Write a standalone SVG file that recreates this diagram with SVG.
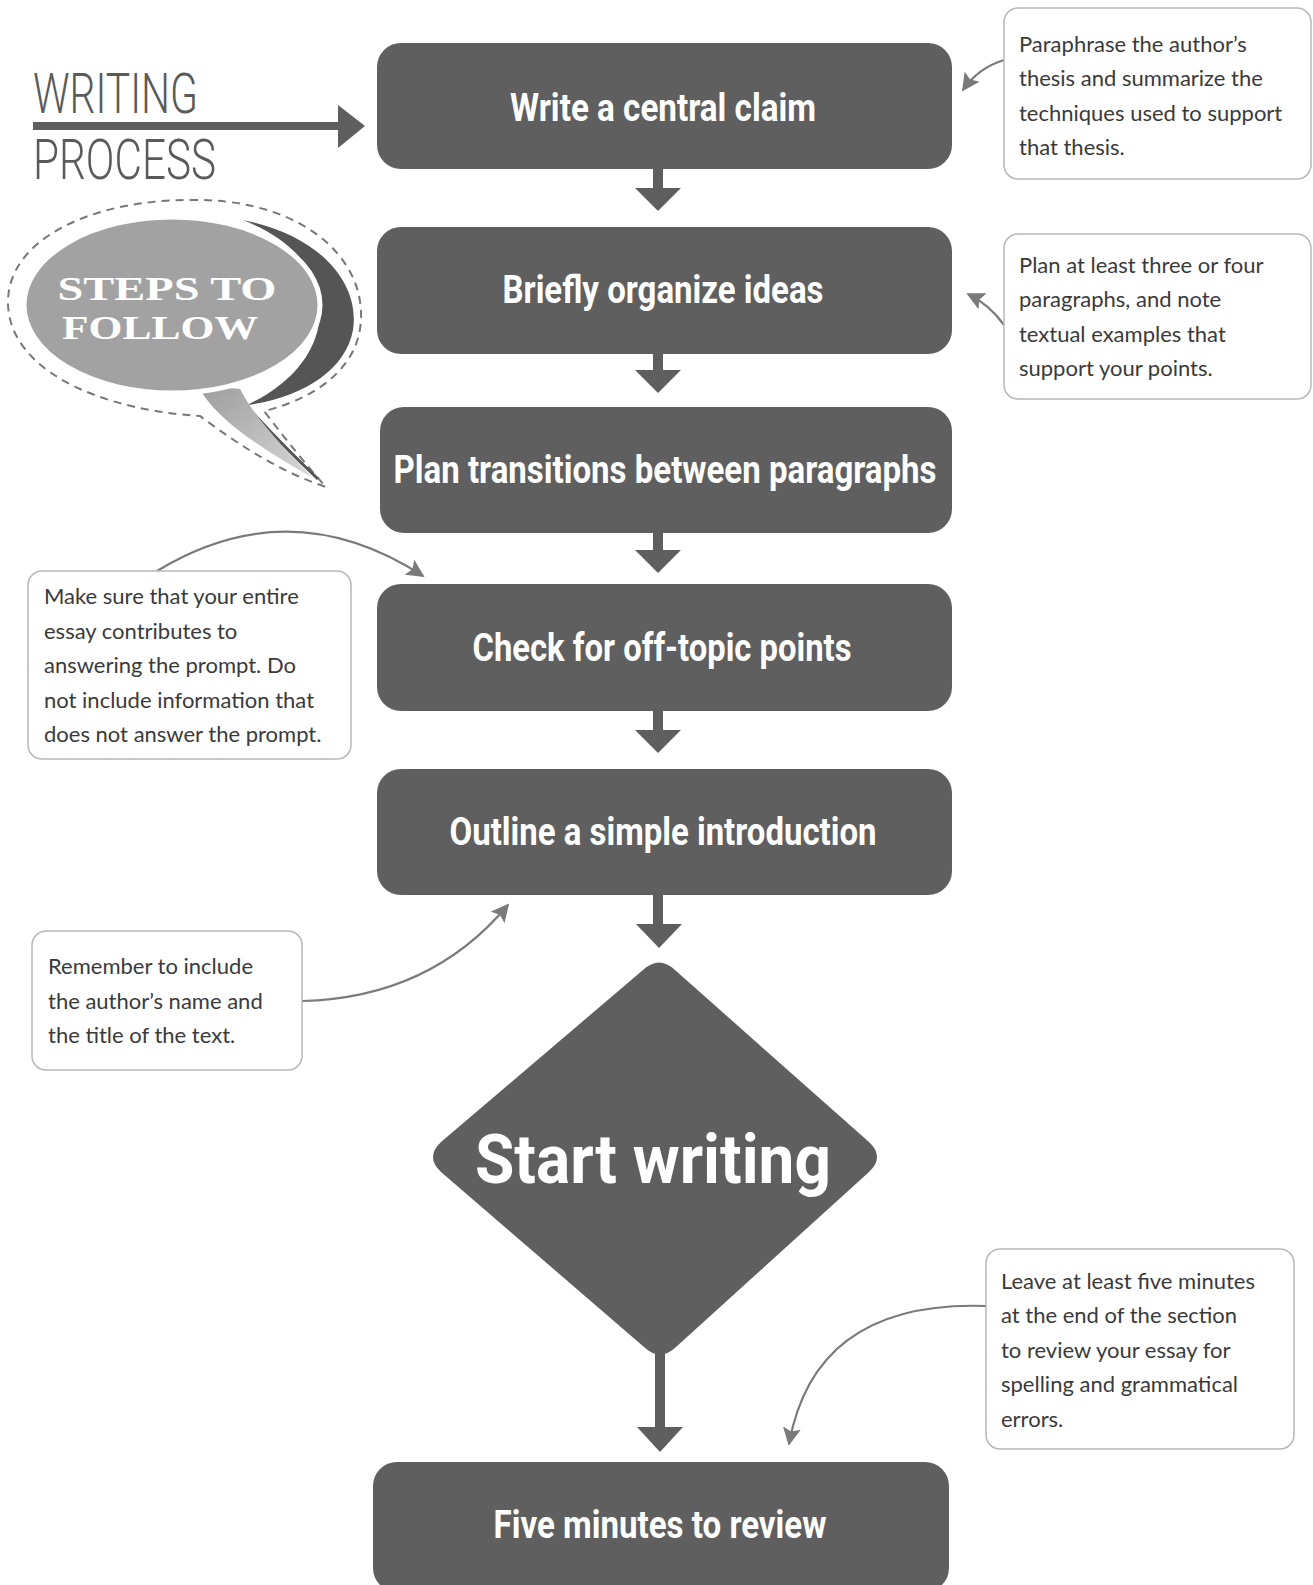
<svg xmlns="http://www.w3.org/2000/svg" width="1313" height="1585" viewBox="0 0 1313 1585">
<style>
.node{fill:#5f5f5f}
.nt{font-family:Roboto,"Liberation Sans",sans-serif;font-weight:700;fill:#ffffff;text-anchor:middle}
.call{fill:#ffffff;stroke:#b8b8b8;stroke-width:1.5}
.ct{font-family:Lato,"Open Sans",sans-serif;font-size:22px;fill:#3a3a3a}
.conn{fill:#5e5e5e}
.curve{fill:none;stroke:#7a7a7a;stroke-width:2.2}
.title{font-family:Roboto,"Liberation Sans",sans-serif;font-weight:300;fill:#5a5a5a}
</style>
<defs>
<marker id="ah2" viewBox="0 0 10 10" refX="9" refY="5" markerWidth="18" markerHeight="18" markerUnits="userSpaceOnUse" orient="auto">
<path d="M0,0 L10,5 L0,10 L2,5 Z" fill="#7a7a7a"/>
</marker>
<linearGradient id="tailg" x1="0" y1="0" x2="1" y2="1">
<stop offset="0" stop-color="#9c9c9c"/>
<stop offset="1" stop-color="#d8d8d8"/>
</linearGradient>
</defs>
<rect width="1313" height="1585" fill="#ffffff"/>

<g id="title">
<text class="title" x="33" y="113" font-size="56" textLength="165" lengthAdjust="spacingAndGlyphs">WRITING</text>
<text class="title" x="33" y="179" font-size="56" textLength="183" lengthAdjust="spacingAndGlyphs">PROCESS</text>
<rect x="33" y="122" width="310" height="8" fill="#5e5e5e"/>
<path d="M338,105 L365,126 L338,148 Z" fill="#5e5e5e"/>
</g>

<g id="bubble">
<path d="M190,200 C292,198 364,250 361,320 C358,376 302,402 264,411 C287,441 307,466 326,487 C281,472 240,446 200,416 C100,410 8,370 8,302 C8,240 90,200 190,200 Z" fill="none" stroke="#777" stroke-width="2" stroke-dasharray="8 6"/>
<path d="M243,220 C322,236 360,284 353,330 C346,370 302,398 247,405 C290,385 320,352 320,310 C320,270 292,240 243,220 Z" fill="#555555"/>
<path d="M250,410 Q285,448 318,479" fill="none" stroke="#555" stroke-width="3"/>
<path d="M198,385 C214,420 268,452 313,478 C286,450 256,420 240,389 Z" fill="url(#tailg)"/>
<ellipse cx="172" cy="305" rx="148" ry="88" fill="#a2a2a2" stroke="#ffffff" stroke-width="5"/>
<text x="167" y="300" font-family="'Liberation Serif',serif" font-weight="700" font-size="33" fill="#ffffff" text-anchor="middle" textLength="219" lengthAdjust="spacingAndGlyphs">STEPS TO</text>
<text x="160" y="339" font-family="'Liberation Serif',serif" font-weight="700" font-size="33" fill="#ffffff" text-anchor="middle" textLength="196" lengthAdjust="spacingAndGlyphs">FOLLOW</text>
</g>

<g id="connectors">
<rect class="conn" x="653" y="168" width="10" height="22"/><path class="conn" d="M635,188 L681,188 L658,211 Z"/>
<rect class="conn" x="653" y="353" width="10" height="20"/><path class="conn" d="M635,370 L681,370 L658,393 Z"/>
<rect class="conn" x="653" y="532" width="10" height="20"/><path class="conn" d="M635,550 L681,550 L658,573 Z"/>
<rect class="conn" x="653" y="710" width="10" height="22"/><path class="conn" d="M635,730 L681,730 L658,753 Z"/>
<rect class="conn" x="653" y="894" width="10" height="32"/><path class="conn" d="M636,924 L682,924 L659,948 Z"/>
<rect class="conn" x="655" y="1345" width="10" height="84"/><path class="conn" d="M637,1427 L683,1427 L660,1452 Z"/>
<path class="curve" d="M1004,60 Q978,68 963,90" marker-end="url(#ah2)"/>
<path class="curve" d="M1004,325 Q990,305 968,294" marker-end="url(#ah2)"/>
<path class="curve" d="M157,571 Q290,490 423,576" marker-end="url(#ah2)"/>
<path class="curve" d="M302,1001 Q430,998 508,905" marker-end="url(#ah2)"/>
<path class="curve" d="M986,1306 Q815,1300 789,1444" marker-end="url(#ah2)"/>
</g>

<g id="n1"><rect class="node" x="377" y="43" width="575" height="126" rx="24"/><text class="nt" x="663" y="121" font-size="38" textLength="306" lengthAdjust="spacingAndGlyphs">Write a central claim</text></g>
<g id="n2"><rect class="node" x="377" y="227" width="575" height="127" rx="24"/><text class="nt" x="663" y="303" font-size="38" textLength="321" lengthAdjust="spacingAndGlyphs">Briefly organize ideas</text></g>
<g id="n3"><rect class="node" x="380" y="407" width="572" height="126" rx="24"/><text class="nt" x="665" y="483" font-size="38" textLength="543" lengthAdjust="spacingAndGlyphs">Plan transitions between paragraphs</text></g>
<g id="n4"><rect class="node" x="377" y="584" width="575" height="127" rx="24"/><text class="nt" x="662" y="661" font-size="38" textLength="379" lengthAdjust="spacingAndGlyphs">Check for off-topic points</text></g>
<g id="n5"><rect class="node" x="377" y="769" width="575" height="126" rx="24"/><text class="nt" x="663" y="845" font-size="38" textLength="427" lengthAdjust="spacingAndGlyphs">Outline a simple introduction</text></g>
<g id="n6"><path class="node" d="M643,970 Q659,955 675,970 L869,1142 Q885,1157 869,1172 L676,1347 Q660,1362 644,1347 L441,1172 Q425,1157 441,1142 Z"/><text class="nt" x="653" y="1183" font-size="68" textLength="356" lengthAdjust="spacingAndGlyphs">Start writing</text></g>
<g id="n7"><rect class="node" x="373" y="1462" width="576" height="130" rx="24"/><text class="nt" x="660" y="1538" font-size="38" textLength="333" lengthAdjust="spacingAndGlyphs">Five minutes to review</text></g>

<g id="c1"><rect class="call" x="1004" y="8" width="307" height="171" rx="14"/>
<text class="ct" x="1019" y="52">Paraphrase the author’s</text>
<text class="ct" x="1019" y="86">thesis and summarize the</text>
<text class="ct" x="1019" y="121">techniques used to support</text>
<text class="ct" x="1019" y="155">that thesis.</text></g>
<g id="c2"><rect class="call" x="1004" y="234" width="307" height="165" rx="14"/>
<text class="ct" x="1019" y="273">Plan at least three or four</text>
<text class="ct" x="1019" y="307">paragraphs, and note</text>
<text class="ct" x="1019" y="342">textual examples that</text>
<text class="ct" x="1019" y="376">support your points.</text></g>
<g id="c3"><rect class="call" x="28" y="571" width="323" height="188" rx="14"/>
<text class="ct" x="44" y="604">Make sure that your entire</text>
<text class="ct" x="44" y="639">essay contributes to</text>
<text class="ct" x="44" y="673">answering the prompt. Do</text>
<text class="ct" x="44" y="708">not include information that</text>
<text class="ct" x="44" y="742">does not answer the prompt.</text></g>
<g id="c4"><rect class="call" x="32" y="931" width="270" height="139" rx="14"/>
<text class="ct" x="48" y="974">Remember to include</text>
<text class="ct" x="48" y="1009">the author’s name and</text>
<text class="ct" x="48" y="1043">the title of the text.</text></g>
<g id="c5"><rect class="call" x="986" y="1249" width="308" height="200" rx="14"/>
<text class="ct" x="1001" y="1289">Leave at least five minutes</text>
<text class="ct" x="1001" y="1323">at the end of the section</text>
<text class="ct" x="1001" y="1358">to review your essay for</text>
<text class="ct" x="1001" y="1392">spelling and grammatical</text>
<text class="ct" x="1001" y="1427">errors.</text></g>
</svg>
